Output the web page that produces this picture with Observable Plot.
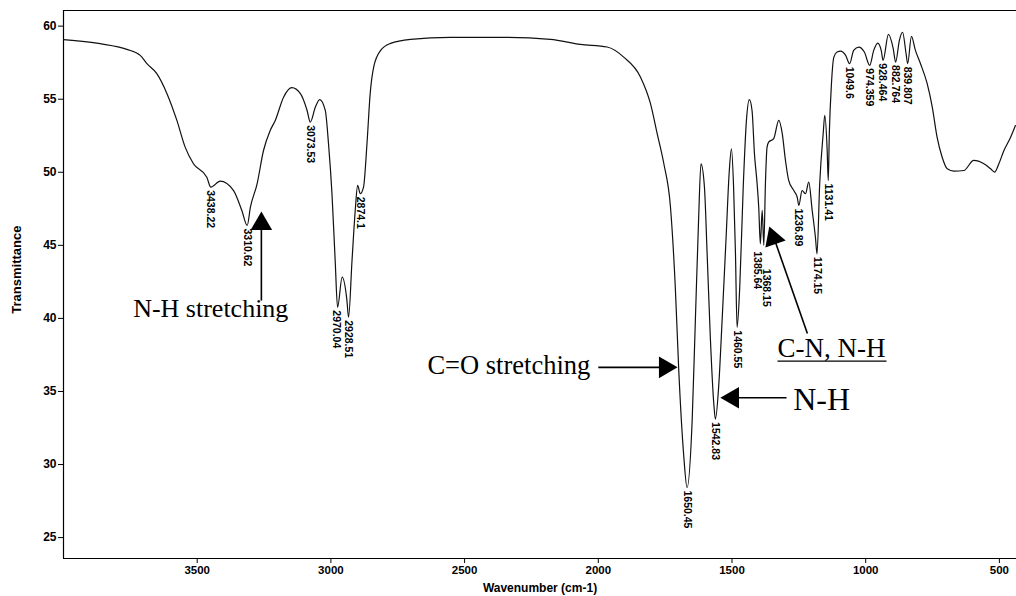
<!DOCTYPE html>
<html><head><meta charset="utf-8">
<script src="https://cdn.jsdelivr.net/npm/d3@7"></script>
<script src="https://cdn.jsdelivr.net/npm/@observablehq/plot@0.6"></script>
<style>body{margin:0;background:#fff}</style>
</head><body><div id="chart"></div>
<script>
// IR spectrum
const wavenumber = [4000,3863,3763,3713,3688,3651,3613,3576,3545,3514,3464,3449,3414,3364,3333,3313,3301,3276,3252,3227,3208,3177,3146,3114,3089,3077,3058,3042,3021,3009,2996,2984,2975,2958,2940,2934,2921,2909,2900,2890,2878,2865,2853,2840,2814,2777,2702,2553,2366,2179,2067,1967,1905,1842,1805,1780,1755,1730,1712,1699,1681,1668,1649,1637,1625,1616,1603,1593,1581,1568,1562,1550,1537,1522,1510,1502,1494,1487,1481,1471,1458,1446,1435,1425,1416,1406,1400,1394,1387,1381,1375,1369,1363,1344,1325,1312,1300,1288,1269,1256,1250,1238,1225,1213,1200,1188,1182,1172,1159,1153,1144,1140,1136,1128,1119,1107,1094,1075,1060,1045,1026,1005,985,970,955,942,935,915,897,888,874,862,849,843,829,814,795,770,751,733,714,695,670,633,596,558,533,518,502,483,458,440];
const transmittance = [59.08,58.80,58.41,58.00,57.43,56.75,55.38,53.55,51.72,50.58,49.66,48.98,49.39,48.75,47.38,46.36,47.61,49.21,51.49,52.86,53.55,55.14,55.79,55.38,54.23,53.43,54.46,54.97,54.23,51.97,48.55,43.96,40.76,42.82,41.22,40.08,43.96,47.38,49.10,48.53,48.98,51.97,55.40,57.20,58.34,58.82,59.10,59.23,59.23,59.10,58.75,58.57,57.88,56.51,54.71,52.66,50.60,47.61,42.13,36.42,30.74,28.43,33.00,39.85,46.70,50.58,48.98,44.44,38.70,34.16,33.11,35.28,39.85,45.55,50.12,51.61,48.98,44.44,39.39,42.13,48.98,53.55,54.97,54.23,51.27,49.21,47.61,45.10,47.40,45.00,49.20,51.70,52.06,52.30,53.55,52.64,50.81,49.44,48.75,48.29,47.73,48.75,48.53,49.32,47.38,45.55,44.42,49.21,52.64,53.89,51.49,49.44,52.64,56.06,57.88,58.23,58.29,58.00,57.43,58.34,58.57,58.23,57.32,58.34,58.84,58.34,57.66,59.44,58.46,57.54,59.03,59.58,58.12,57.43,59.30,58.34,57.43,56.06,54.46,52.40,51.03,50.24,50.08,50.12,50.81,50.58,50.24,50.01,50.58,51.49,52.40,53.20];

// Peak labels
const peakLabels = ["3438.22","3310.62","3073.53","2970.04","2928.51","2874.1","1650.45","1542.83","1460.55","1385.64","1368.15","1236.89","1174.15","1131.41","1049.6","974.359","928.464","882.764","839.807"];
const peakWn = [3452,3313,3077,2978,2934,2890,1668,1562,1481,1405,1372,1250,1182,1140,1062,987,937,890,845];
const peakTr = [48.98,46.36,53.43,40.76,40.08,48.53,28.43,33.11,39.39,44.80,43.60,47.73,44.42,49.44,57.43,57.32,57.66,57.54,57.43];

// Axes
const xTicks = [3500,3000,2500,2000,1500,1000,500];
const yTicks = [25,30,35,40,45,50,55,60];
const xDomain = [4000, 436];
const yDomain = [23.57, 61.07];
const xTitle = "Wavenumber (cm-1)";
const yTitle = "Transmittance";

// Annotations
const annText = ["N-H stretching","C=O stretching","N-H","C-N, N-H"];
const annX = [3159, 2639, 1271, 1330];
const annY = [40.12, 36.22, 33.7, 37.33];
const annAnchor = ["end","start","start","start"];
const annSize = [26, 26.5, 32, 27];

const shaftX1 = [3260, 2000, 1296, 1218];
const shaftY1 = [41.22, 36.65, 34.57, 38.96];
const shaftX2 = [3260, 1765, 1487, 1341];
const shaftY2 = [46.15, 36.65, 34.57, 45.4];

const headX = [3260, 1750, 1497, 1345];
const headY = [46.47, 36.65, 34.57, 45.49];
const headAngle = [0, 90, -90, -19.4];

const underline = {x1: 1330, x2: 922, y: 37.07};

const spectrum = wavenumber.map((w, i) => ({w, t: transmittance[i]}));
const peaks = peakLabels.map((s, i) => ({s, w: peakWn[i], t: peakTr[i]}));
const shafts = shaftX1.map((x1, i) => ({x1, y1: shaftY1[i], x2: shaftX2[i], y2: shaftY2[i]}));
const heads = headX.map((x, i) => ({x, y: headY[i], r: headAngle[i]}));

const serif = "'Liberation Serif', 'Times New Roman', serif";
const sans = "'Liberation Sans', Arial, sans-serif";

const annMarks = annText.map((s, i) => Plot.text([s], {
  x: annX[i], y: annY[i], text: d => d, textAnchor: annAnchor[i], fontSize: annSize[i],
  lineAnchor: "bottom", fontFamily: serif, fontWeight: "normal", fill: "#000"
}));

const chart = Plot.plot({
  width: 1016,
  height: 596,
  marginLeft: 63,
  marginRight: 0,
  marginTop: 10,
  marginBottom: 38,
  style: {fontFamily: sans, fontSize: "11px", fontWeight: "bold", background: "#fff", color: "#000"},
  x: {domain: xDomain, ticks: xTicks, label: null},
  y: {domain: yDomain, ticks: yTicks, label: null},
  marks: [
    Plot.axisX({ticks: xTicks, tickSize: 5, tickPadding: 2, tickFormat: d => String(d), label: null, fontSize: 11.5, fontWeight: "bold"}),
    Plot.axisY({ticks: yTicks, tickSize: 5, tickPadding: 2, tickFormat: d => String(d), label: null, fontSize: 12, fontWeight: "bold"}),
    Plot.ruleY([yDomain[1]], {stroke: "#000", strokeWidth: 1.2}),
    Plot.ruleY([yDomain[0]], {stroke: "#000", strokeWidth: 1.2}),
    Plot.ruleX([xDomain[0]], {stroke: "#000", strokeWidth: 1.2}),
    Plot.line(spectrum, {x: "w", y: "t", stroke: "#111", strokeWidth: 1.2, curve: "monotone-x"}),
    Plot.text(peaks, {x: "w", y: "t", text: "s", rotate: 90, textAnchor: "start", lineAnchor: "middle", dy: 3, fontSize: 10.5, fontWeight: "bold", fontFamily: sans, fill: "#000"}),
    ...annMarks,
    Plot.link(shafts, {x1: "x1", y1: "y1", x2: "x2", y2: "y2", stroke: "#000", strokeWidth: 1.6}),
    Plot.link([underline], {x1: "x1", x2: "x2", y1: "y", y2: "y", stroke: "#000", strokeWidth: 1.3}),
    Plot.dot(heads, {x: "x", y: "y", rotate: "r", symbol: "triangle", r: 8, fill: "#000", stroke: "none"}),
    Plot.text([yTitle], {x: xDomain[0], y: 43.34, text: d => d, rotate: -90, dx: -47, fontSize: 13, fontWeight: "bold", fontFamily: sans, fill: "#000"}),
    Plot.text([xTitle], {x: (xDomain[0] + xDomain[1]) / 2, y: yDomain[0], text: d => d, dy: 30, fontSize: 12, fontWeight: "bold", fontFamily: sans, fill: "#000"})
  ]
});
document.getElementById("chart").appendChild(chart);
</script>
</body></html>
